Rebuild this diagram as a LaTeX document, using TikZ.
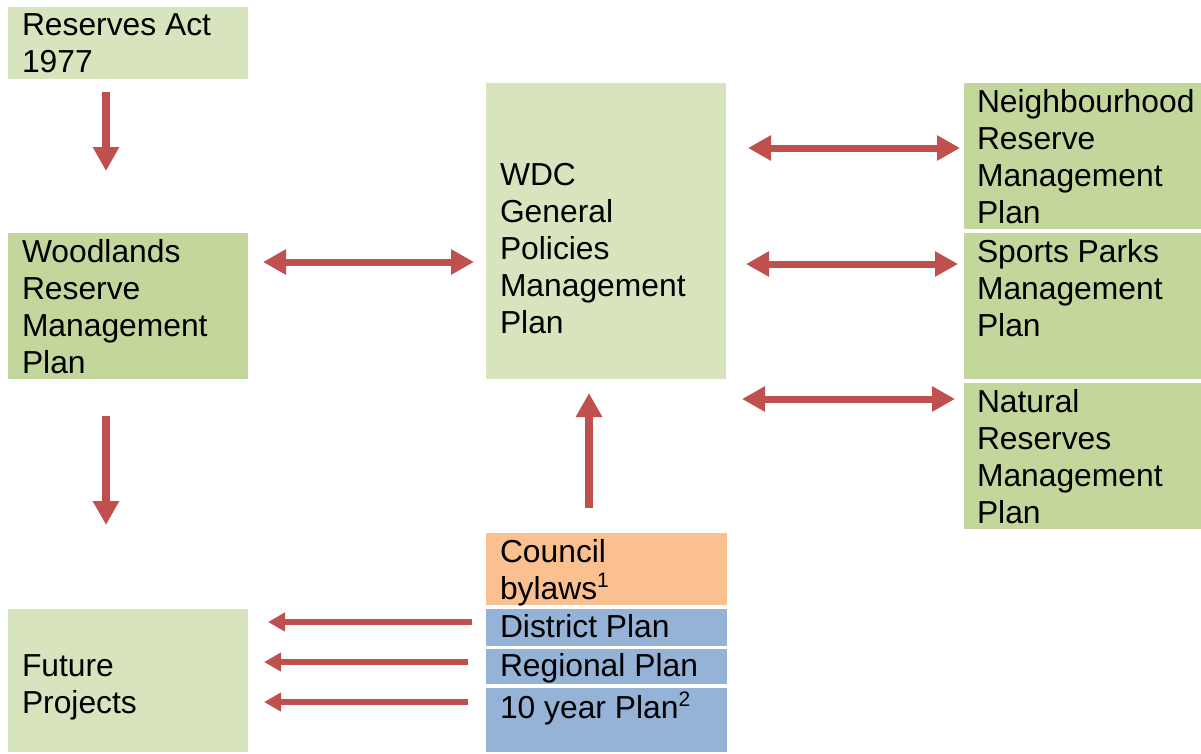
\documentclass[tikz,border=0pt]{standalone}
\usepackage{fontspec}
\setmainfont{Liberation Sans}
\usetikzlibrary{arrows.meta}
\definecolor{lightgrn}{HTML}{D7E4BD}
\definecolor{midgrn}{HTML}{C3D69B}
\definecolor{orng}{HTML}{FAC090}
\definecolor{blu}{HTML}{95B3D7}
\definecolor{arred}{HTML}{C0504D}
\newcommand{\fs}{\rule{0pt}{25pt}}
\newcommand{\supr}[1]{\raisebox{12pt}{\fontsize{21}{21}\selectfont #1}}
\begin{document}
\begin{tikzpicture}[x=1pt,y=-1pt,
  box/.style={fill=#1, draw=none, inner sep=0pt, outer sep=0pt, anchor=north west},
  txt/.style={anchor=north west, inner sep=0pt, outer sep=0pt, align=left, font=\fontsize{31.8}{37}\selectfont},
  bigarr/.style={draw=arred, line width=8pt, -{Triangle[width=25pt,length=24pt]}},
  dblarr/.style={draw=arred, line width=7pt, {Triangle[width=24pt,length=23pt]}-{Triangle[width=24pt,length=23pt]}},
  smallarr/.style={draw=arred, line width=6pt, -{Triangle[width=18pt,length=17pt]}}]
\useasboundingbox (0,0) rectangle (1201,753);
% boxes
\node[box=lightgrn, minimum width=240pt, minimum height=72pt] (ra) at (8,7) {};
\node[box=midgrn, minimum width=240pt, minimum height=146pt] (wr) at (8,233) {};
\node[box=lightgrn, minimum width=240pt, minimum height=296pt] (wdc) at (486,83) {};
\node[box=midgrn, minimum width=237pt, minimum height=146pt] (nb) at (964,83) {};
\node[box=midgrn, minimum width=237pt, minimum height=146pt] (sp) at (964,233) {};
\node[box=midgrn, minimum width=237pt, minimum height=146pt] (nr) at (964,383) {};
\node[box=orng, minimum width=241pt, minimum height=72pt] (cb) at (486,533) {};
\node[box=blu, minimum width=241pt, minimum height=37pt] (dp) at (486,609) {};
\node[box=blu, minimum width=241pt, minimum height=35pt] (rp) at (486,649) {};
\node[box=blu, minimum width=241pt, minimum height=64pt] (typ) at (486,688) {};
\node[box=lightgrn, minimum width=240pt, minimum height=143pt] (fp) at (8,609) {};
% texts
\node[txt] (ra-t) at (22,10) {\fs Reserves Act\\1977};
\node[txt] (wr-t) at (22,237) {\fs Woodlands\\Reserve\\Management\\Plan};
\node[txt] (wdc-t) at (500,160) {\fs WDC\\General\\Policies\\Management\\Plan};
\node[txt] (nb-t) at (977,87) {\fs Neighbourhood\\Reserve\\Management\\Plan};
\node[txt] (sp-t) at (977,237) {\fs Sports Parks\\Management\\Plan};
\node[txt] (nr-t) at (977,387) {\fs Natural\\Reserves\\Management\\Plan};
\node[txt] (cb-t) at (500,537) {\fs Council\\bylaws\supr{1}};
\node[txt] (dp-t) at (500,612) {\fs District Plan};
\node[txt] (rp-t) at (500,651) {\fs Regional Plan};
\node[txt] (typ-t) at (500,692) {\fs 10 year Plan\supr{2}};
\node[txt] (fp-t) at (22,651) {\fs Future\\Projects};
% arrow end points
\coordinate (a1s) at (106,92);  \coordinate (a1e) at (106,171);
\coordinate (a2s) at (263,262); \coordinate (a2e) at (474,262);
\coordinate (a3s) at (106,416); \coordinate (a3e) at (106,525);
\coordinate (a4s) at (589,508); \coordinate (a4e) at (589,393);
\coordinate (a5s) at (748,148); \coordinate (a5e) at (960,148);
\coordinate (a6s) at (746,264); \coordinate (a6e) at (958,264);
\coordinate (a7s) at (742,399); \coordinate (a7e) at (955,399);
\coordinate (a8s) at (472,622); \coordinate (a8e) at (268,622);
\coordinate (a9s) at (468,662); \coordinate (a9e) at (264,662);
\coordinate (a10s) at (468,702); \coordinate (a10e) at (264,702);
% connectors
\draw[bigarr] (a1s) -- (a1e);
\draw[dblarr] (a2s) -- (a2e);
\draw[bigarr] (a3s) -- (a3e);
\draw[bigarr] (a4s) -- (a4e);
\draw[dblarr] (a5s) -- (a5e);
\draw[dblarr] (a6s) -- (a6e);
\draw[dblarr] (a7s) -- (a7e);
\draw[smallarr] (a8s) -- (a8e);
\draw[smallarr] (a9s) -- (a9e);
\draw[smallarr] (a10s) -- (a10e);
\end{tikzpicture}
\end{document}
